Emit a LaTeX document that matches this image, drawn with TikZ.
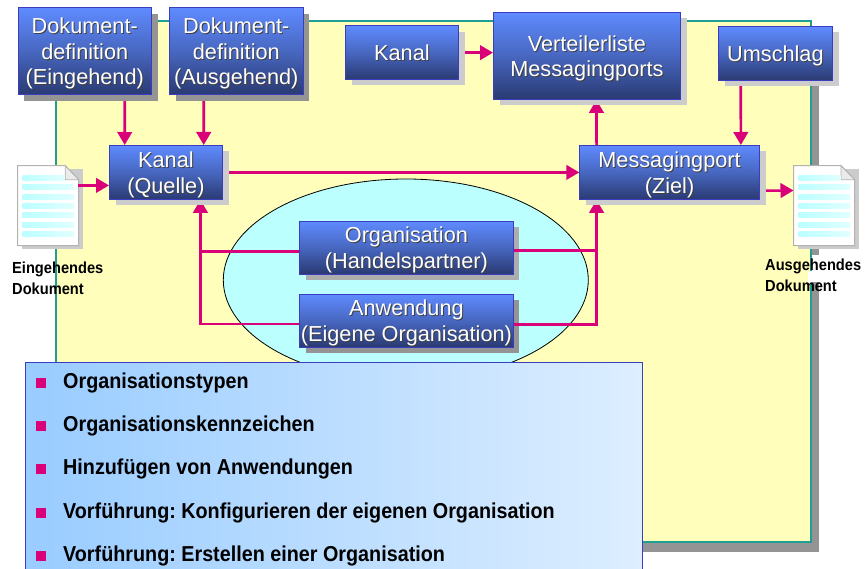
\documentclass[tikz,border=0pt]{standalone}
\usepackage{fontspec}
\setmainfont{Liberation Sans}
\newfontfamily\condfont[FakeStretch=0.915]{Liberation Sans}
\usetikzlibrary{arrows.meta,shadings}
\definecolor{boxtop}{HTML}{5F8BFF}
\definecolor{boxbot}{HTML}{2A3A72}
\definecolor{boxline}{HTML}{3C3CC0}
\definecolor{pinkline}{HTML}{D9007A}
\definecolor{yell}{HTML}{FFFFBB}
\definecolor{teal2}{HTML}{1F9E94}
\definecolor{cyanfill}{HTML}{BBFFFF}
\definecolor{darkshadow}{gray}{0.58}
\definecolor{midshadow}{gray}{0.68}
\definecolor{lightshadow}{gray}{0.80}
\definecolor{panelL}{HTML}{99CCFF}
\definecolor{panelR}{HTML}{DDEEFF}
\pgfdeclarelayer{under}
\pgfdeclarelayer{conn}
\pgfsetlayers{under,conn,main}
\frenchspacing
\newcommand{\sh}[1]{\leavevmode\rlap{\kern1pt\raisebox{-1pt}{\textcolor{black!75}{#1}}}#1}
\tikzset{
 bluebox/.style={draw=boxline,line width=0.8pt,top color=boxtop,bottom color=boxbot,middle color=boxtop!55!boxbot,
   text=white,font=\fontsize{21.7}{25.5}\selectfont,inner sep=0pt,anchor=north west},
 pink/.style={draw=pinkline,line width=2.6pt,-{Triangle[length=13pt,width=14.5pt]}},
 pinkplain/.style={draw=pinkline,line width=2.6pt},
 doclabel/.style={font=\condfont\bfseries\fontsize{16}{21.2}\selectfont,align=left,inner sep=0pt,anchor=west,text=black},
 item/.style={font=\condfont\bfseries\fontsize{21.6}{22}\selectfont,inner sep=0pt,anchor=base west,text=black},
 bull/.style={fill=pinkline,draw=none,minimum size=10pt,inner sep=0pt},
}
\newcommand{\bx}[7]{% name, x0,y0,x1,y1, shadow colour, text
 \fill[#6] (#2+6.5,#3+6.5) rectangle (#4+6.5,#5+6.5);
 \node[bluebox,minimum width=#4pt-#2pt,minimum height=#5pt-#3pt] (#1) at (#2,#3) {\raisebox{0pt}[\height][\dimexpr\depth-6pt]{\begin{tabular}{@{}c@{}}#7\end{tabular}}};
}
\newcommand{\docicon}[3]{% name,x,y
 \fill[lightshadow] (#2+4,#3+3.5) rectangle (#2+65,#3+83.5);
 \draw[draw=black!30,line width=1pt,fill=white] (#2,#3) -- (#2+47.5,#3) -- (#2+61,#3+14) -- (#2+61,#3+80) -- (#2,#3+80) -- cycle;
 \draw[draw=black!30,line width=0.8pt,fill=black!8] (#2+47.5,#3) -- (#2+47.5,#3+14) -- (#2+61,#3+14) -- cycle;
 \foreach \yy/\xe in {9.5/47,18.5/56.5,28.5/56.5,37.5/56.5,46.5/56.5,56.5/56.5,65.5/56.5}{
  \shade[left color=cyanfill,right color=cyanfill!45] (#2+5,#3+\yy) rectangle (#2+\xe,#3+\yy+5);
 }
 \node[inner sep=0pt,minimum width=61pt,minimum height=80pt,anchor=north west] (#1) at (#2,#3) {};
}
\begin{document}
\begin{tikzpicture}[x=1pt,y=-1pt]
\useasboundingbox (0,0) rectangle (867,569);
\begin{pgfonlayer}{under}
\fill[darkshadow] (64,30) rectangle (819,552);
\draw[draw=teal2,line width=1.2pt,fill=yell] (56,21) rectangle (811,542);
\fill[white] (812,255) rectangle (818.5,282);
\fill[white] (808,271) rectangle (812,283);
\draw[fill=cyanfill,draw=black,line width=0.8pt] (405.8,280) ellipse [x radius=182.5,y radius=101];
\fill[midshadow] (305.8,227.2) rectangle (519.2,280.2);
\fill[darkshadow] (305.8,300.2) rectangle (519.2,353.2);
\docicon{docin}{17.7}{165.7}
\docicon{docout}{793.5}{165.7}
\end{pgfonlayer}
% boxes
\bx{ddein}{17.7}{7.3}{151}{94.3}{darkshadow}{\sh{Dokument-}\\\sh{definition}\\\sh{(Eingehend)}}
\bx{ddaus}{169.3}{7.3}{302.5}{94.3}{darkshadow}{\sh{Dokument-}\\\sh{definition}\\\sh{(Ausgehend)}}
\bx{kanal}{345}{25.5}{458}{79}{lightshadow}{\sh{Kanal}}
\bx{vert}{493}{12}{680}{99}{lightshadow}{\sh{Verteilerliste}\\\sh{Messagingports}}
\bx{umsch}{718}{26}{832}{80}{lightshadow}{\sh{Umschlag}}
\bx{kq}{109}{145}{222}{199}{lightshadow}{\sh{Kanal}\\\sh{(Quelle)}}
\bx{mp}{579.3}{145}{759}{199}{lightshadow}{\sh{Messagingport}\\\sh{(Ziel)}}
\bx{org}{299.3}{220.7}{512.7}{273.7}{fill=none}{\sh{Organisation}\\\sh{(Handelspartner)}}
\bx{anw}{299.3}{293.7}{512.7}{346.7}{fill=none}{\sh{Anwendung}\\\sh{(Eigene Organisation)}}
\node[doclabel] (lin) at (12,278) {Eingehendes\\Dokument};
\node[doclabel] (lout) at (765,275) {Ausgehendes\\Dokument};
% connectors
\coordinate (kqin) at ([xshift=34.5pt]kq.south);
\coordinate (mpin) at ([xshift=-73pt]mp.south);
\coordinate (orgl) at ([yshift=-3.8pt]org.west);
\coordinate (orgr) at ([yshift=-2.8pt]org.east);
\coordinate (anwl) at ([yshift=-3.3pt]anw.west);
\coordinate (anwr) at ([yshift=-3.8pt]anw.east);
\begin{pgfonlayer}{conn}
\draw[pink] ([xshift=40pt]ddein.south) -- ([xshift=-41.2pt]kq.north);
\draw[pink] ([xshift=-32.6pt]ddaus.south) -- ([xshift=37.8pt]kq.north);
\draw[pink] (kanal.east) -- (kanal.east -| vert.west);
\draw[pink] ([xshift=-34.7pt]umsch.south) -- ([xshift=71.3pt]mp.north);
\draw[pink] ([xshift=-73pt]mp.north) -- ([xshift=9.5pt]vert.south);
\draw[pink] (kq.east) -- (mp.west);
\draw[pink] ([xshift=-1pt,yshift=20.5pt]docin.east) -- ([yshift=-13pt]kq.west);
\draw[pink] ([yshift=-18.3pt]mp.east) -- ([yshift=15.4pt]docout.west);
\draw[pinkplain] (orgl) -- (orgl -| kqin);
\draw[pink] (anwl) -| (kqin);
\draw[pinkplain] (orgr) -- (orgr -| mpin);
\draw[pink] (anwr) -| (mpin);
\end{pgfonlayer}
% panel
\shade[left color=panelL,right color=panelR] (25,362) rectangle (642,569);
\draw[draw=boxline,line width=1pt] (25,569) -- (25,362) -- (642,362) -- (642,569);
\foreach \nm/\yy/\by/\tx in {a/388/383/Organisationstypen,b/431/426/Organisationskennzeichen,c/474/469/Hinzufügen von Anwendungen,d/518/513/Vorführung: Konfigurieren der eigenen Organisation,e/561/556/Vorführung: Erstellen einer Organisation}{
 \node[bull] (b\nm) at (41,\by) {};
 \node[item] (t\nm) at (63,\yy) {\tx};
}
\end{tikzpicture}
\end{document}
